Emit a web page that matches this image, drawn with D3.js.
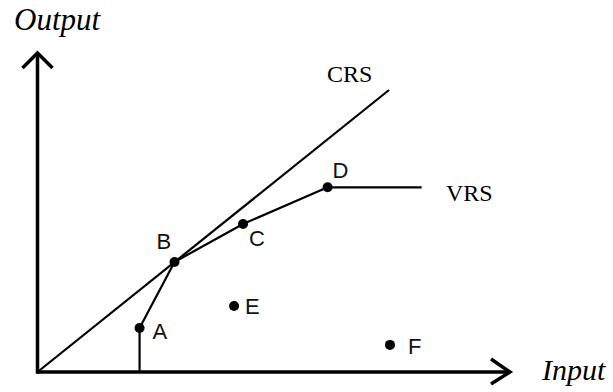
<!DOCTYPE html>
<html>
<head>
<meta charset="utf-8">
<script src="https://cdn.jsdelivr.net/npm/d3@7"></script>
<style>
  body { margin: 0; background: #fff; }
  svg { display: block; }
</style>
</head>
<body>
<div id="chart"></div>
<script>
// DATA (input/output units, 0-100 on each axis)
var pointNames = ['A', 'B', 'C', 'D', 'E', 'F'];
var pointInput = [21.6, 29.0, 43.5, 61.4, 41.6, 74.6];
var pointOutput = [13.8, 34.5, 46.4, 57.9, 20.7, 8.5];

// VRS frontier: drops from A to the axis, then A-B-C-D and flat
var vrsInput = [21.6, 21.6, 29.0, 43.5, 61.4, 81.3];
var vrsOutput = [0, 13.8, 34.5, 46.4, 57.9, 57.9];

// CRS ray from the origin through B
var crsInput = [0, 74.4];
var crsOutput = [0, 88.4];

var axisTitles = ['Input', 'Output'];
var frontierNames = ['CRS', 'VRS'];

// LAYOUT / STYLE
var width = 613;
var height = 392;
var ink = '#000';

var x = d3.scaleLinear().domain([0, 100]).range([37.5, 510]);
var y = d3.scaleLinear().domain([0, 100]).range([372, 53]);

// label offsets from each dot, pixels
var labelOffset = {
  A: [13, 11], B: [-18, -13], C: [6, 22],
  D: [5, -9], E: [11, 8], F: [18, 9]
};

var svg = d3.select('#chart')
  .append('svg')
    .attr('width', width)
    .attr('height', height);

// axes with open arrowheads
var axisW = 3.5;
svg.append('line')
    .attr('x1', x(0)).attr('y1', y(0))
    .attr('x2', x(100) - 1).attr('y2', y(0))
    .style('stroke', ink).style('stroke-width', axisW);
svg.append('line')
    .attr('x1', x(0)).attr('y1', y(0) + axisW / 2)
    .attr('x2', x(0)).attr('y2', y(100) + 1)
    .style('stroke', ink).style('stroke-width', axisW);

svg.append('path')
    .attr('d', 'M' + (x(100) - 19) + ',' + (y(0) - 13) +
               'L' + x(100) + ',' + y(0) +
               'L' + (x(100) - 19) + ',' + (y(0) + 12))
    .style('fill', 'none').style('stroke', ink)
    .style('stroke-width', 3.5).style('stroke-linejoin', 'miter');
svg.append('path')
    .attr('d', 'M' + (x(0) - 15) + ',' + (y(100) + 15) +
               'L' + x(0) + ',' + y(100) +
               'L' + (x(0) + 15) + ',' + (y(100) + 15))
    .style('fill', 'none').style('stroke', ink)
    .style('stroke-width', 3.5).style('stroke-linejoin', 'miter');

// frontiers
var line = d3.line()
    .x(function(d) { return x(d[0]); })
    .y(function(d) { return y(d[1]); });

svg.append('path')
    .datum(d3.zip(crsInput, crsOutput))
    .attr('d', line)
    .style('fill', 'none').style('stroke', ink).style('stroke-width', 2.2);

svg.append('path')
    .datum(d3.zip(vrsInput, vrsOutput))
    .attr('d', line)
    .style('fill', 'none').style('stroke', ink).style('stroke-width', 2.2)
    .style('stroke-linejoin', 'round');

// points
var points = pointNames.map(function(n, i) {
  return { name: n, input: pointInput[i], output: pointOutput[i] };
});

svg.selectAll('circle')
  .data(points)
  .enter()
  .append('circle')
    .attr('cx', function(d) { return x(d.input); })
    .attr('cy', function(d) { return y(d.output); })
    .attr('r', 5)
    .style('fill', ink);

svg.selectAll('text.pt')
  .data(points)
  .enter()
  .append('text')
    .attr('class', 'pt')
    .attr('x', function(d) { return x(d.input) + labelOffset[d.name][0]; })
    .attr('y', function(d) { return y(d.output) + labelOffset[d.name][1]; })
    .style('font-family', '"Liberation Sans", Arial, sans-serif')
    .style('font-size', '22px')
    .style('fill', '#111')
    .text(function(d) { return d.name; });

// frontier names
var serif = '"Liberation Serif", "Times New Roman", serif';
svg.append('text')
    .attr('x', 327).attr('y', 82)
    .style('font-family', serif).style('font-size', '24px')
    .text(frontierNames[0]);
svg.append('text')
    .attr('x', 446).attr('y', 201)
    .style('font-family', serif).style('font-size', '24px')
    .text(frontierNames[1]);

// axis titles
svg.append('text')
    .attr('x', 542).attr('y', 380)
    .style('font-family', serif).style('font-size', '30px')
    .style('font-style', 'italic')
    .text(axisTitles[0]);
svg.append('text')
    .attr('x', 14).attr('y', 30)
    .style('font-family', serif).style('font-size', '31px')
    .style('font-style', 'italic')
    .text(axisTitles[1]);
</script>
</body>
</html>
